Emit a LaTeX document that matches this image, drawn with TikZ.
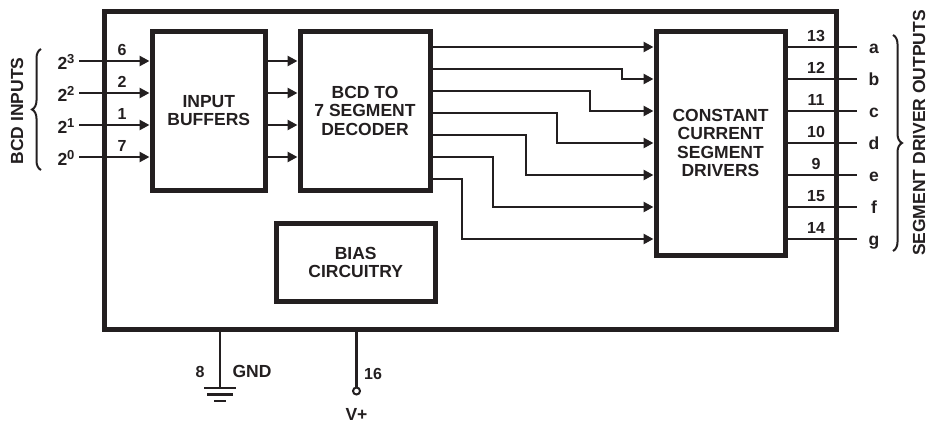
\documentclass[tikz,border=0pt]{standalone}
\usepackage{fontspec}
\setmainfont{Liberation Sans}
\usetikzlibrary{arrows.meta,decorations.pathreplacing}
\definecolor{ink}{HTML}{231F20}
\newcommand{\pw}[1]{2\raisebox{6pt}{\fontsize{13}{13}\selectfont #1}}
\begin{document}
\begin{tikzpicture}[x=1pt,y=-1pt,
  every node/.style={text=ink,font=\fontsize{17.5}{18.5}\selectfont\bfseries},
  blk/.style={draw=ink,line width=5pt,rectangle,inner sep=0pt,align=center},
  wire/.style={draw=ink,line width=2.8pt},
  arr/.style={wire,-{Triangle[length=10pt,width=10pt]}},
  pin/.style={font=\fontsize{16}{16}\selectfont\bfseries,anchor=base},
  brc/.style={draw=ink,line width=2pt,decorate,decoration={brace,amplitude=9pt}}]
\useasboundingbox (0,0) rectangle (939,423);
% boxes
\node[blk,minimum width=732pt,minimum height=318pt] (outer) at (470,170) {};
\node[blk,minimum width=113.5pt,minimum height=159.5pt] (inbuf) at (208.75,110.75) {INPUT\\BUFFERS};
\node[blk,minimum width=130pt,minimum height=159pt] (dec) at (365,110.5) {BCD TO\\7 SEGMENT\\DECODER};
\node[blk,minimum width=129pt,minimum height=224pt] (drv) at (720.5,143) {CONSTANT\\CURRENT\\SEGMENT\\DRIVERS};
\node[blk,minimum width=159.5pt,minimum height=78pt] (bias) at (355.75,262.5) {BIAS\\CIRCUITRY};
% inputs
\foreach \y/\p/\e [count=\i] in {61/6/3,93/2/2,125/1/1,157/7/0}{
  \coordinate (in\i) at (79,\y);
  \draw[arr] (in\i) -- (inbuf.west |- in\i);
  \draw[arr] (inbuf.east |- in\i) -- (dec.west |- in\i);
  \node[pin] (pn\i) at (122,\y-6) {\p};
  \node[anchor=base east] (lb\i) at (78,\y+8) {\pw{\e}};
}
% decoder to drivers
\draw[arr] (dec.east |- 0,47) -- (drv.west |- 0,47);
\foreach \ys/\xt/\ye in {69/622/79,91/590/111,113/557/143,135/526/175,157/493/207,179/462/239}{
  \draw[arr] (dec.east |- 0,\ys) -| (\xt,\ye) -- (drv.west |- 0,\ye);
}
% outputs
\foreach \y/\p/\l [count=\i] in {47/13/a,79/12/b,111/11/c,143/10/d,175/9/e,207/15/f,239/14/g}{
  \coordinate (out\i) at (857,\y);
  \draw[wire] (drv.east |- out\i) -- (out\i);
  \node[pin] (op\i) at (816,\y-6) {\p};
  \node[anchor=base] (ol\i) at (874,\y+6) {\l};
}
% braces
\draw[brc] (41,170) -- (41,49);
\draw[brc] (893,35) -- (893,251);
\node[rotate=90] (bcdlbl) at (17,111) {BCD INPUTS};
\node[rotate=90] (seglbl) at (919,133) {SEGMENT DRIVER OUTPUTS};
% GND
\coordinate (g0) at (220,388);
\draw[wire] (outer.south -| g0) -- (g0);
\draw[wire] (204,388) -- (236,388);
\draw[wire] (207,394.5) -- (233,394.5);
\draw[wire] (214,401) -- (226,401);
\node[pin] (p8) at (200,377) {8};
\node[anchor=base] (gnd) at (252,377) {GND};
% V+
\node[circle,draw=ink,line width=2pt,fill=white,inner sep=0pt,minimum size=7pt] (v0) at (356.5,391) {};
\draw[wire] (outer.south -| v0) -- (v0.north);
\node[pin] (p16) at (373,379) {16};
\node[anchor=base] (vp) at (356.5,420) {V+};
\end{tikzpicture}
\end{document}
